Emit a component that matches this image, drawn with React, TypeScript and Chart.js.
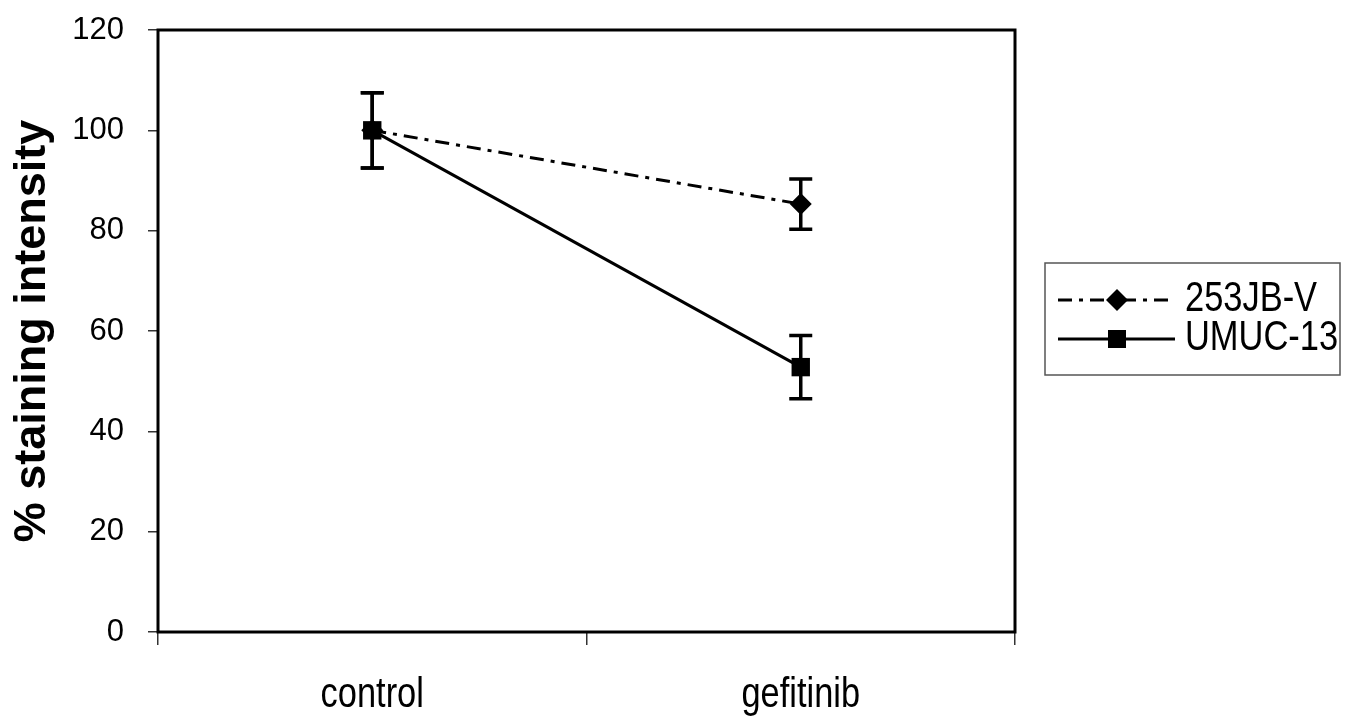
import React, { useEffect, useRef } from "react";
import { Chart, registerables } from "chart.js";

Chart.register(...registerables);

const categories = ["control", "gefitinib"];
const seriesNames = ["253JB-V", "UMUC-13"];
const jbValues = [100, 85.3];
const jbErrors = [7.5, 5.0];
const umucValues = [100, 52.8];
const umucErrors = [7.5, 6.3];
const yTicks = [0, 20, 40, 60, 80, 100, 120];

const SANS = "'Liberation Sans', Arial, sans-serif";
const JB_DASH = [14, 7, 4, 7];

function drawNarrowText(ctx: any, text: string, x: number, y: number, size: number, align: string, sx: number) {
  ctx.save();
  ctx.translate(x, y);
  ctx.scale(sx, 1);
  ctx.font = `${size}px ${SANS}`;
  ctx.fillStyle = "#000";
  ctx.textAlign = align;
  ctx.textBaseline = "alphabetic";
  ctx.fillText(text, 0, 0);
  ctx.restore();
}

const errorBarPlugin = {
  id: "errorBars",
  beforeDatasetsDraw(chart: any) {
    const { ctx } = chart;
    const y = chart.scales.y;
    chart.data.datasets.forEach((ds: any, di: number) => {
      const meta = chart.getDatasetMeta(di);
      const errs: number[] = ds.errors || [];
      meta.data.forEach((pt: any, i: number) => {
        const v = ds.data[i];
        const e = errs[i];
        if (e == null) return;
        const yTop = y.getPixelForValue(v + e);
        const yBot = y.getPixelForValue(v - e);
        const x = pt.x;
        ctx.save();
        ctx.strokeStyle = "#000";
        ctx.lineWidth = 3.5;
        ctx.beginPath();
        ctx.moveTo(x, yTop);
        ctx.lineTo(x, yBot);
        ctx.moveTo(x - 11.5, yTop);
        ctx.lineTo(x + 11.5, yTop);
        ctx.moveTo(x - 11.5, yBot);
        ctx.lineTo(x + 11.5, yBot);
        ctx.stroke();
        ctx.restore();
      });
    });
  },
};

const framePlugin = {
  id: "frame",
  afterDraw(chart: any) {
    const { ctx, chartArea } = chart;
    ctx.save();
    ctx.strokeStyle = "#000";
    ctx.lineWidth = 3;
    ctx.strokeRect(
      chartArea.left,
      chartArea.top,
      chartArea.right - chartArea.left,
      chartArea.bottom - chartArea.top
    );
    ctx.restore();
  },
};

const xLabelPlugin = {
  id: "xLabels",
  afterDraw(chart: any) {
    const { ctx } = chart;
    const xs = chart.scales.x;
    const labels: string[] = chart.data.labels;
    labels.forEach((lab, i) => {
      const x = xs.getPixelForValue(i);
      drawNarrowText(ctx, lab, x, 707, 43, "center", 0.8);
    });
  },
};

const legendPlugin = {
  id: "customLegend",
  afterDraw(chart: any) {
    const { ctx } = chart;
    const bx = 1045;
    const by = 263;
    const bw = 295;
    const bh = 112;
    ctx.save();
    ctx.strokeStyle = "#555";
    ctx.lineWidth = 1.5;
    ctx.strokeRect(bx, by, bw, bh);
    const rows = [300, 339];
    chart.data.datasets.forEach((ds: any, i: number) => {
      const yy = rows[i];
      ctx.strokeStyle = "#000";
      ctx.lineWidth = 3;
      ctx.setLineDash(ds.borderDash || []);
      ctx.beginPath();
      ctx.moveTo(1058, yy);
      ctx.lineTo(1175, yy);
      ctx.stroke();
      ctx.setLineDash([]);
      ctx.fillStyle = "#000";
      ctx.beginPath();
      if (ds.pointStyle === "rectRot") {
        const r = 11;
        ctx.moveTo(1117, yy - r);
        ctx.lineTo(1117 + r, yy);
        ctx.lineTo(1117, yy + r);
        ctx.lineTo(1117 - r, yy);
        ctx.closePath();
      } else {
        ctx.rect(1117 - 9, yy - 9, 18, 18);
      }
      ctx.fill();
      drawNarrowText(ctx, ds.label, 1185, yy + 11, 42, "left", 0.82);
    });
    ctx.restore();
  },
};

export default function App() {
  const canvasRef = useRef<HTMLCanvasElement | null>(null);

  useEffect(() => {
    if (!canvasRef.current) return;
    const chart = new Chart(canvasRef.current, {
      type: "line",
      data: {
        labels: categories,
        datasets: [
          {
            label: seriesNames[0],
            data: jbValues,
            errors: jbErrors,
            borderColor: "#000",
            backgroundColor: "#000",
            borderWidth: 3,
            borderDash: JB_DASH,
            pointStyle: "rectRot",
            pointRadius: 11,
            pointBorderWidth: 0,
            pointBackgroundColor: "#000",
            order: 1,
          } as any,
          {
            label: seriesNames[1],
            data: umucValues,
            errors: umucErrors,
            borderColor: "#000",
            backgroundColor: "#000",
            borderWidth: 3,
            pointStyle: "rect",
            pointRadius: 13,
            pointBorderWidth: 0,
            pointBackgroundColor: "#000",
            order: 0,
          } as any,
        ],
      },
      options: {
        responsive: false,
        animation: false,
        layout: { padding: { left: 0, top: 30, right: 345, bottom: 0 } },
        plugins: {
          legend: { display: false },
          tooltip: { enabled: false },
        },
        scales: {
          x: {
            type: "category",
            offset: true,
            grid: {
              offset: true,
              drawOnChartArea: false,
              drawTicks: true,
              tickLength: 13,
              color: "#333",
              lineWidth: 1.5,
            },
            border: { display: false },
            ticks: { display: false },
            afterFit: (s: any) => {
              s.height = 87;
              s.paddingLeft = 0;
              s.paddingRight = 0;
            },
          },
          y: {
            min: 0,
            max: 120,
            afterBuildTicks: (s: any) => {
              s.ticks = yTicks.map((v) => ({ value: v }));
            },
            grid: {
              drawOnChartArea: false,
              drawTicks: true,
              tickLength: 10,
              color: "#333",
              lineWidth: 1.5,
            },
            border: { display: false },
            ticks: {
              color: "#000",
              font: { family: SANS, size: 31 },
              padding: 24,
            },
            title: {
              display: true,
              text: "% staining intensity",
              color: "#000",
              font: { family: SANS, size: 45, weight: "bold" },
              padding: { top: 6, bottom: 0 },
            },
            afterFit: (s: any) => {
              s.width = 158;
              s.paddingTop = 0;
              s.paddingBottom = 0;
            },
          },
        },
      },
      plugins: [errorBarPlugin, framePlugin, xLabelPlugin, legendPlugin],
    });
    return () => chart.destroy();
  }, []);

  return (
    <div style={{ position: "absolute", left: 0, top: 0, width: 1360, height: 719, background: "#fff" }}>
      <canvas ref={canvasRef} width={1360} height={719} />
    </div>
  );
}
